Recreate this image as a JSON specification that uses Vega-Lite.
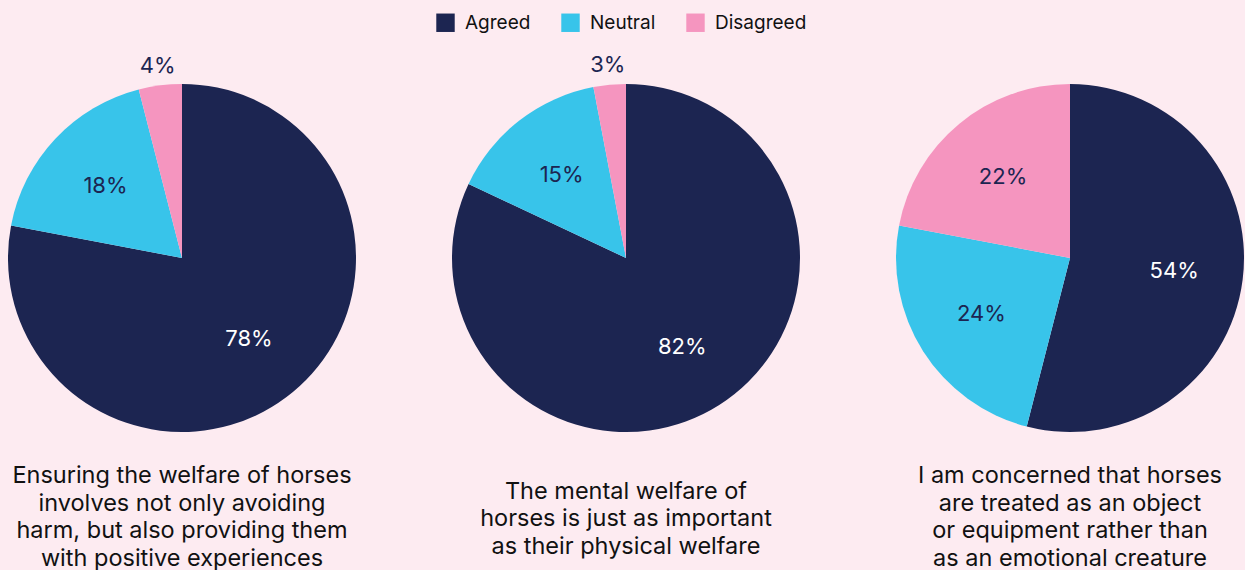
{
  "$schema": "https://vega.github.io/schema/vega-lite/v6.json",
  "background": "#fdebf1",
  "padding": {"left": 8, "top": 13, "right": 0, "bottom": 0},
  "data": {"values": [
    {"q": 1, "response": "Agreed", "value": 0.78},
    {"q": 1, "response": "Neutral", "value": 0.18},
    {"q": 1, "response": "Disagreed", "value": 0.04},
    {"q": 2, "response": "Agreed", "value": 0.82},
    {"q": 2, "response": "Neutral", "value": 0.15},
    {"q": 2, "response": "Disagreed", "value": 0.03},
    {"q": 3, "response": "Agreed", "value": 0.54},
    {"q": 3, "response": "Neutral", "value": 0.24},
    {"q": 3, "response": "Disagreed", "value": 0.22}
  ]},
  "spacing": 96,
  "resolve": {"scale": {"color": "shared"}, "legend": {"color": "shared"}},
  "config": {
    "view": {"stroke": null},
    "font": "Inter",
    "title": {"fontSize": 23.5, "fontWeight": "normal", "color": "#111111", "lineHeight": 27.5, "anchor": "middle", "orient": "bottom", "baseline": "top"},
    "legend": {"orient": "none", "legendX": 428, "legendY": -71, "direction": "horizontal", "title": null, "symbolType": "square", "symbolSize": 340, "symbolStrokeWidth": 0, "symbolOpacity": 1, "labelFontSize": 19, "labelColor": "#111111", "labelOffset": 10, "columnPadding": 30, "labelFont": "Inter"}
  },
  "hconcat": [
    {
      "width": 348, "height": 348,
      "title": {"text": ["Ensuring the welfare of horses", "involves not only avoiding", "harm, but also providing them", "with positive experiences"], "offset": 32},
      "transform": [{"filter": "datum.q === 1"}],
      "layer": [
        {"mark": {"type": "arc"}, "encoding": {
          "theta": {"field": "value", "type": "quantitative", "stack": true},
          "order": {"field": "value", "type": "quantitative", "sort": "descending"},
          "color": {"field": "response", "type": "nominal", "sort": ["Agreed", "Neutral", "Disagreed"], "scale": {"domain": ["Agreed", "Neutral", "Disagreed"], "range": ["#1c2551", "#38c4ea", "#f595bf"]}}
        }},
        {"mark": {"type": "text", "radius": 105, "fontSize": 22, "align": "center", "baseline": "middle"}, "encoding": {
          "theta": {"field": "value", "type": "quantitative", "stack": true},
          "order": {"field": "value", "type": "quantitative", "sort": "descending"},
          "text": {"condition": {"test": "datum.value >= 0.05", "field": "value", "type": "quantitative", "format": ".0%"}, "value": ""},
          "color": {"condition": {"test": "datum.response === 'Agreed'", "value": "#ffffff"}, "value": "#1c2551"}
        }},
        {"mark": {"type": "text", "radius": 194, "fontSize": 22, "align": "center", "baseline": "middle", "color": "#1c2551"}, "encoding": {
          "theta": {"field": "value", "type": "quantitative", "stack": true},
          "order": {"field": "value", "type": "quantitative", "sort": "descending"},
          "text": {"condition": {"test": "datum.value < 0.05", "field": "value", "type": "quantitative", "format": ".0%"}, "value": ""}
        }}
      ]
    },
    {
      "width": 348, "height": 348,
      "title": {"text": ["The mental welfare of", "horses is just as important", "as their physical welfare"], "offset": 47},
      "transform": [{"filter": "datum.q === 2"}],
      "layer": [
        {"mark": {"type": "arc"}, "encoding": {
          "theta": {"field": "value", "type": "quantitative", "stack": true},
          "order": {"field": "value", "type": "quantitative", "sort": "descending"},
          "color": {"field": "response", "type": "nominal", "sort": ["Agreed", "Neutral", "Disagreed"], "scale": {"domain": ["Agreed", "Neutral", "Disagreed"], "range": ["#1c2551", "#38c4ea", "#f595bf"]}}
        }},
        {"mark": {"type": "text", "radius": 105, "fontSize": 22, "align": "center", "baseline": "middle"}, "encoding": {
          "theta": {"field": "value", "type": "quantitative", "stack": true},
          "order": {"field": "value", "type": "quantitative", "sort": "descending"},
          "text": {"condition": {"test": "datum.value >= 0.05", "field": "value", "type": "quantitative", "format": ".0%"}, "value": ""},
          "color": {"condition": {"test": "datum.response === 'Agreed'", "value": "#ffffff"}, "value": "#1c2551"}
        }},
        {"mark": {"type": "text", "radius": 194, "fontSize": 22, "align": "center", "baseline": "middle", "color": "#1c2551"}, "encoding": {
          "theta": {"field": "value", "type": "quantitative", "stack": true},
          "order": {"field": "value", "type": "quantitative", "sort": "descending"},
          "text": {"condition": {"test": "datum.value < 0.05", "field": "value", "type": "quantitative", "format": ".0%"}, "value": ""}
        }}
      ]
    },
    {
      "width": 348, "height": 348,
      "title": {"text": ["I am concerned that horses", "are treated as an object", "or equipment rather than", "as an emotional creature"], "offset": 32},
      "transform": [{"filter": "datum.q === 3"}],
      "layer": [
        {"mark": {"type": "arc"}, "encoding": {
          "theta": {"field": "value", "type": "quantitative", "stack": true},
          "order": {"field": "value", "type": "quantitative", "sort": "descending"},
          "color": {"field": "response", "type": "nominal", "sort": ["Agreed", "Neutral", "Disagreed"], "scale": {"domain": ["Agreed", "Neutral", "Disagreed"], "range": ["#1c2551", "#38c4ea", "#f595bf"]}}
        }},
        {"mark": {"type": "text", "radius": 105, "fontSize": 22, "align": "center", "baseline": "middle"}, "encoding": {
          "theta": {"field": "value", "type": "quantitative", "stack": true},
          "order": {"field": "value", "type": "quantitative", "sort": "descending"},
          "text": {"condition": {"test": "datum.value >= 0.05", "field": "value", "type": "quantitative", "format": ".0%"}, "value": ""},
          "color": {"condition": {"test": "datum.response === 'Agreed'", "value": "#ffffff"}, "value": "#1c2551"}
        }},
        {"mark": {"type": "text", "radius": 194, "fontSize": 22, "align": "center", "baseline": "middle", "color": "#1c2551"}, "encoding": {
          "theta": {"field": "value", "type": "quantitative", "stack": true},
          "order": {"field": "value", "type": "quantitative", "sort": "descending"},
          "text": {"condition": {"test": "datum.value < 0.05", "field": "value", "type": "quantitative", "format": ".0%"}, "value": ""}
        }}
      ]
    }
  ]
}
